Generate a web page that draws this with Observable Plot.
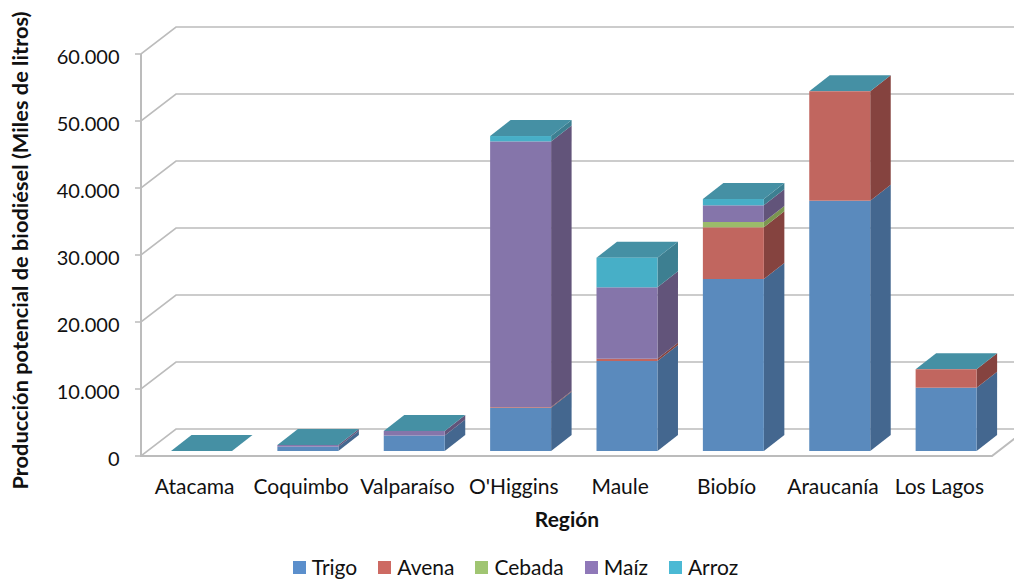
<!DOCTYPE html>
<html lang="es">
<head>
<meta charset="utf-8">
<script src="https://cdn.jsdelivr.net/npm/d3@7"></script>
<script src="https://cdn.jsdelivr.net/npm/@observablehq/plot@0.6"></script>
<style>
html,body{margin:0;padding:0;background:#fff;overflow:hidden;width:1014px;height:579px}
svg{display:block}
#legend{box-sizing:border-box;height:27px;display:flex;justify-content:center;gap:21px;font:21px Lato,sans-serif;color:#111;line-height:normal;padding-left:17px}
#legend .i{display:flex;align-items:flex-start;gap:6px;white-space:nowrap}
#legend .s{width:13px;height:13px;margin-top:9px;display:inline-block}
#legend .t{margin-top:2px}
</style>
</head>
<body>
<div id="chart"></div>
<div id="legend"></div>
<script>
const regions = ["Atacama","Coquimbo","Valparaíso","O'Higgins","Maule","Biobío","Araucanía","Los Lagos"];
const crops = ["Trigo","Avena","Cebada","Maíz","Arroz"];
const trigo  = [0, 650, 2300, 6460, 13430, 25670, 37360, 9450];
const avena  = [0, 0, 0, 100, 340, 7720, 16330, 2750];
const cebada = [0, 0, 0, 0, 0, 790, 0, 0];
const maiz   = [0, 250, 700, 39650, 10660, 2490, 0, 0];
const arroz  = [0, 0, 0, 800, 4420, 940, 0, 0];
const series = [trigo, avena, cebada, maiz, arroz];
const frontColors = ["#5a8abd","#c1665f","#9bbb6a","#8575aa","#47afc7"];
const sideColors  = ["#44678f","#85433f","#7b9650","#62547a","#3d7f91"];
const legendColors = ["#5b8fcc","#cd6a63","#a0c572","#8f78b8","#4bb9d4"];
const topColor = "#4590a4";
const yTicks = [0,10000,20000,30000,40000,50000,60000];
const yTitle = "Producción potencial de biodiésel (Miles de litros)";
const xTitle = "Región";

const rows = regions.flatMap((region,i)=>crops.map((crop,j)=>({region,crop,value:series[j][i]})));

const FONT = "Lato, sans-serif";
const wall = {dx:35, dy:27};            // depth of the chart box
const barShift = {dx:7.3, dy:5};        // how far bars stand behind the front plane
const barDepth = {dx:20.5, dy:16};
const barInset = 22.7;
const gridColor = "#bcbcbc";

function walls(index, {y}, values, dim){
  const g = d3.create("svg:g").attr("fill","none").attr("stroke",gridColor).attr("stroke-width",1.6);
  const L = dim.marginLeft, R = dim.width - dim.marginRight;
  for (const t of yTicks){
    const p = y(t);
    g.append("path").attr("d",`M${L-6},${p}H${L}L${L+wall.dx},${p-wall.dy}H${dim.width+2}`);
  }
  g.append("path").attr("d",`M${L},${y(60000)}V${y(0)}H${R}L${R+wall.dx},${y(0)-wall.dy}`).attr("stroke-width",2);
  return g.node();
}

function faces(index, scales, v){
  const bw = scales.x.bandwidth() - 2*barInset;
  const g = d3.create("svg:g");
  const sx = barShift.dx, sy = -barShift.dy, ddx = barDepth.dx, ddy = barDepth.dy;
  for (const i of index){
    const crop = rows[i].crop, j = crops.indexOf(crop);
    const xr = v.x[i] + sx + bw + barInset, xl = v.x[i] + sx + barInset;
    const yb = v.y1[i] + sy, yt = v.y2[i] + sy;
    g.append("path").attr("fill",sideColors[j])
      .attr("d",`M${xr},${yb}L${xr+ddx},${yb-ddy}V${yt-ddy}L${xr},${yt}Z`);
    if (crop === "Arroz")
      g.append("path").attr("fill",topColor)
        .attr("d",`M${xl},${yt}L${xl+ddx},${yt-ddy}H${xr+ddx}L${xr},${yt}Z`);
  }
  return g.node();
}

const chart = Plot.plot({
  width:1014, height:552,
  marginLeft:141, marginRight:22, marginTop:54, marginBottom:96,
  style:{fontFamily:FONT, background:"transparent", overflow:"visible"},
  x:{type:"band", domain:regions, padding:0, round:false, label:null},
  y:{domain:[0,60000], label:null},
  color:{domain:crops, range:frontColors},
  marks:[
    walls,
    Plot.barY(rows,{x:"region",y:"value",fill:"crop",order:crops,render:faces}),
    Plot.barY(rows,{x:"region",y:"value",fill:"crop",order:crops,insetLeft:barInset,insetRight:barInset,dx:barShift.dx,dy:-barShift.dy}),
    Plot.axisX({tickSize:0,tickPadding:23,fontSize:21,fill:"#111",label:null}),
    Plot.axisY({ticks:yTicks,tickSize:0,tickPadding:22,fontSize:20,fill:"#111",dy:3,label:null,
      tickFormat:d=>d3.format(",")(d).replace(/,/g,".")}),
    Plot.text([yTitle],{text:d=>d,frameAnchor:"left",textAnchor:"middle",rotate:-90,dx:-120,dy:-5,fontSize:21.8,fontWeight:"bold",fill:"#111"}),
    Plot.text([xTitle],{text:d=>d,frameAnchor:"bottom",lineAnchor:"middle",dy:64,fontSize:21,fontWeight:"bold",fill:"#111"})
  ]
});
document.getElementById("chart").append(chart);

const legend = d3.select("#legend");
crops.forEach((c,i)=>{
  const it = legend.append("div").attr("class","i");
  it.append("span").attr("class","s").style("background",legendColors[i]);
  it.append("span").attr("class","t").text(c);
});
</script>
</body>
</html>
